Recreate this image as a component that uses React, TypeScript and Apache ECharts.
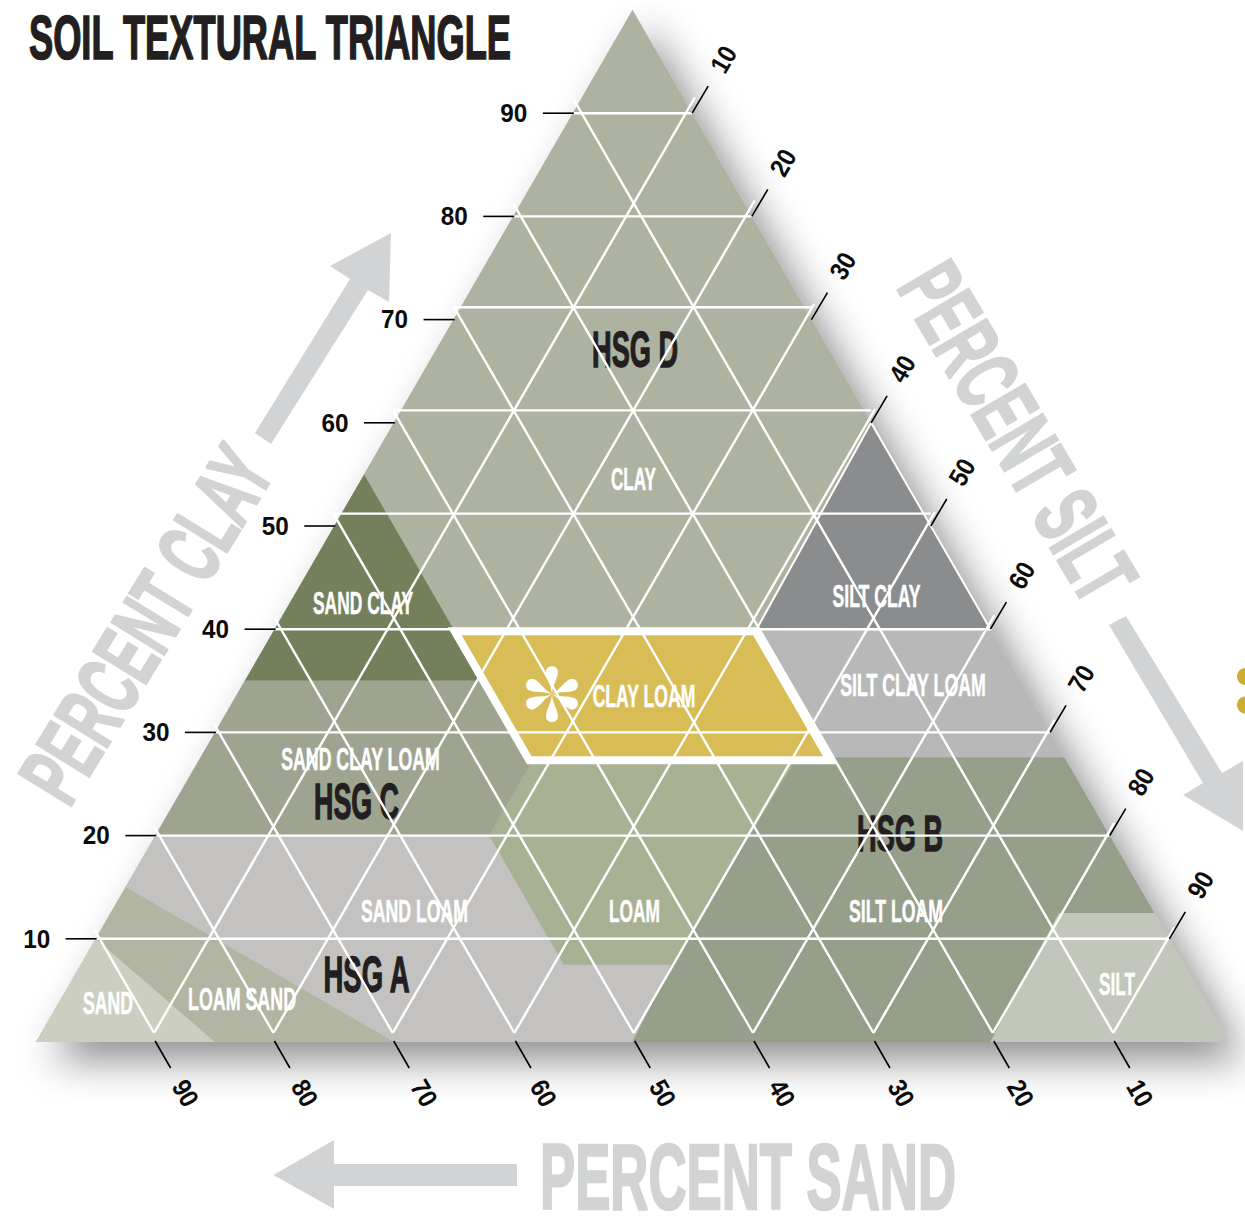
import React, { useEffect, useRef } from "react";
import * as echarts from "echarts";

// ---- Data: every vertex is [percent sand, percent clay] ----
const clayRegion = [[0, 100], [0, 60], [19.6, 40], [45, 40], [45, 55]];
const sandClayRegion = [[45, 55], [45, 35], [65, 35]];
const sandClayLoamRegion = [[65, 35], [45, 35], [45, 27], [52, 20], [80, 20]];
const sandLoamRegion = [[85, 15], [80, 20], [52, 20], [52, 7.5], [43, 7.5], [50, 0], [70, 0]];
const loamSandRegion = [[85, 15], [70, 0], [85, 0], [90, 10]];
const sandRegion = [[90, 10], [85, 0], [100, 0]];
const loamRegion = [[45, 27], [23, 27], [43, 7.5], [52, 7.5], [52, 20]];
const siltLoamRegion = [[23, 27], [19.8, 27.6], [0, 27.6], [0, 12.5], [8, 12.5], [20, 0], [50, 0], [43, 7.5]];
const siltRegion = [[8, 12.5], [0, 12.5], [0, 0], [20, 0]];
const siltClayLoamRegion = [[19.8, 39.8], [0, 40], [0, 27.6], [19.8, 27.6]];
const siltClayRegion = [[0, 60], [0, 40], [19.6, 40]];
const clayLoamRegion = [[45, 39.8], [19.8, 39.8], [19.8, 27.3], [45, 27.3]];
const wholeTriangle = [[0, 100], [0, 0], [100, 0]];
const flowerAnchor = [39.9, 33.7];

const clayTicks = [10, 20, 30, 40, 50, 60, 70, 80, 90];
const sandTicks = [90, 80, 70, 60, 50, 40, 30, 20, 10];
const siltTicks = [10, 20, 30, 40, 50, 60, 70, 80, 90];

// The printed grid is slightly off the tick marks: these are the values as drawn.
const horizontalNominalClay = [10, 20, 30, 40, 50, 60, 70, 80, 90];
const horizontalDrawnClay = [10, 20, 30, 40, 51.2, 61.2, 71.2, 80, 90];
const diagonalFootPosition = [9.9, 19.9, 29.9, 40.1, 50.1, 60.1, 70.2, 80.2, 90.3];
const diagonalFootClay = 0.87;

const COND = "'Liberation Sans Narrow', 'Liberation Sans', Arial, sans-serif";
const SANS = "'Liberation Sans', Arial, sans-serif";
const GREY = "#d1d3d4";
const INK = "#231f20";

const regionStyles: [number[][], string, any?][] = [
  [clayRegion, "#aeb2a0"],
  [sandClayRegion, "#74805c"],
  [sandClayLoamRegion, "#9fa491"],
  [sandLoamRegion, "#c3c2c0"],
  [loamSandRegion, "#b2b5a2"],
  [sandRegion, "#cccfbf"],
  [loamRegion, "#a9b195"],
  [siltLoamRegion, "#969f89"],
  [siltRegion, "#c3c6bb"],
  [siltClayLoamRegion, "#b8b8b8"],
  [siltClayRegion, "#8b8c8e", { stroke: "#ffffff", lineWidth: 2 }],
  [clayLoamRegion, "#d8bd57", { stroke: "#ffffff", lineWidth: 8, lineJoin: "miter" }],
];

const CAP = 0.716;
let measureCtx: CanvasRenderingContext2D | null = null;
function fitted(text: string, cx: number, cy: number, width: number, cap: number, fill: string, opts: any = {}) {
  const family = opts.family || COND;
  const fontSize = cap / CAP;
  if (!measureCtx) measureCtx = document.createElement("canvas").getContext("2d");
  measureCtx!.font = `bold ${fontSize}px ${family}`;
  const natural = measureCtx!.measureText(text).width || width;
  const bold = opts.bold === undefined ? 1.4 : opts.bold;
  return {
    type: "text",
    x: cx,
    y: cy,
    rotation: ((opts.deg || 0) * Math.PI) / 180,
    scaleX: width / natural,
    scaleY: 1,
    silent: true,
    style: {
      text,
      fontFamily: family,
      fontWeight: "bold",
      fontSize,
      fill,
      stroke: bold ? fill : undefined,
      lineWidth: bold,
      align: "center",
      verticalAlign: "middle",
      textAlign: "center",
      textVerticalAlign: "middle",
    },
  };
}

const toPlane = (p: number[]) => [100 - p[0] - p[1] / 2, p[1]];

function flowerPath() {
  const L = 28, W = 6;
  const angles = [90, 270, 25, 155, 205, 335];
  let d = "";
  for (const a of angles) {
    const c = Math.cos((a * Math.PI) / 180), s = -Math.sin((a * Math.PI) / 180);
    const P = (l: number, w: number) => `${(l * c - w * s).toFixed(2)} ${(l * s + w * c).toFixed(2)}`;
    d += `M0 0C${P(0.35 * L, 0.12 * W)} ${P(0.55 * L, W)} ${P(0.8 * L, W)}C${P(0.93 * L, W)} ${P(L, 0.5 * W)} ${P(L, 0)}C${P(L, -0.5 * W)} ${P(0.93 * L, -W)} ${P(0.8 * L, -W)}C${P(0.55 * L, -W)} ${P(0.35 * L, -0.12 * W)} 0 0Z`;
  }
  return d;
}
echarts.graphic.registerShape("soilFlower", echarts.graphic.extendPath(flowerPath(), {}) as any);

function buildOption() {
  const hsgLabels = () => [
    fitted("HSG D", 635, 350, 86, 36, INK),
    fitted("HSG C", 356.5, 802, 85, 36, INK),
    fitted("HSG B", 900, 834, 86, 36, INK),
    fitted("HSG A", 366.5, 975, 87, 36, INK),
  ];
  const whiteLabels = () => [
    fitted("CLAY", 633.5, 479, 45, 22, "#fff", { bold: 0.5 }),
    fitted("SAND CLAY", 363, 602.5, 100, 22, "#fff", { bold: 0.5 }),
    fitted("CLAY LOAM", 644, 696, 103, 22, "#fff", { bold: 0.5 }),
    fitted("SILT CLAY", 876.5, 596, 88, 22, "#fff", { bold: 0.5 }),
    fitted("SILT CLAY LOAM", 913, 685, 146, 22, "#fff", { bold: 0.5 }),
    fitted("SAND CLAY LOAM", 360.5, 759, 159, 22, "#fff", { bold: 0.5 }),
    fitted("SAND LOAM", 414.5, 911, 107, 22, "#fff", { bold: 0.5 }),
    fitted("LOAM", 634.5, 911, 51, 22, "#fff", { bold: 0.5 }),
    fitted("SILT LOAM", 896, 911, 94, 22, "#fff", { bold: 0.5 }),
    fitted("LOAM SAND", 242, 999, 108, 22, "#fff", { bold: 0.5 }),
    fitted("SAND", 108, 1002.5, 50, 22, "#fff", { bold: 0.5 }),
    fitted("SILT", 1117, 983.5, 36, 22, "#fff", { bold: 0.5 }),
  ];

  const base = { type: "custom", coordinateSystem: "cartesian2d", silent: true, clip: false };
  const layerData = [[0, 0]];
  const gridStyle = { stroke: "#fff", lineWidth: 2.4 };

  return {
    animation: false,
    backgroundColor: "#ffffff",
    tooltip: { show: false },
    grid: { left: 36, right: 16, top: 10, bottom: 174, containLabel: false },
    xAxis: { type: "value", min: 0, max: 100, show: false },
    yAxis: { type: "value", min: 0, max: 100, show: false },
    graphic: {
      elements: [
        fitted("SOIL TEXTURAL TRIANGLE", 270, 38, 483, 45, INK, { bold: 1.7 }),
        fitted("PERCENT SAND", 748, 1177, 416, 66, GREY, { bold: 2.6 }),
        fitted("PERCENT CLAY", 146, 624, 396, 64, GREY, { deg: 58.4, bold: 2.6 }),
        fitted("PERCENT SILT", 1017.3, 432.3, 374, 64, GREY, { deg: -59.4, bold: 2.6 }),
        { type: "polygon", silent: true, shape: { points: [[391, 233], [330, 266], [350, 279], [255, 433], [271, 444], [368, 290], [389, 302]] }, style: { fill: GREY } },
        { type: "polygon", silent: true, shape: { points: [[1109, 625], [1126, 616], [1222, 773], [1243, 761], [1243, 831], [1183, 795], [1203, 783]] }, style: { fill: GREY } },
        { type: "polygon", silent: true, shape: { points: [[273.5, 1175], [334, 1140], [334, 1164], [517, 1164], [517, 1186], [334, 1186], [334, 1209]] }, style: { fill: GREY } },
        { type: "ellipse", silent: true, shape: { cx: 1245, cy: 676.5, rx: 8, ry: 8.5 }, style: { fill: "#cdae32" } },
        { type: "ellipse", silent: true, shape: { cx: 1245, cy: 705, rx: 8, ry: 8.5 }, style: { fill: "#cdae32" } },
      ],
    },
    series: [
      {
        ...base,
        name: "triangle",
        z: 1,
        data: layerData,
        renderItem: (_: any, api: any) => ({
          type: "polygon",
          shape: { points: wholeTriangle.map((p) => api.coord(toPlane(p))) },
          style: {
            fill: "#aeb2a0",
            shadowBlur: 40,
            shadowColor: "rgba(0,0,0,0.45)",
            shadowOffsetX: 16,
            shadowOffsetY: 18,
          },
        }),
      },
      {
        ...base,
        name: "regions",
        z: 2,
        data: regionStyles.map((_, i) => [i, 0]),
        renderItem: (params: any, api: any) => {
          const [poly, fill, extra] = regionStyles[params.dataIndex];
          return {
            type: "polygon",
            shape: { points: poly.map((p) => api.coord(toPlane(p))) },
            style: { fill, ...(extra || {}) },
          };
        },
      },
      {
        ...base,
        name: "labels",
        z: 3,
        data: layerData,
        renderItem: (_: any, api: any) => {
          const flower = api.coord(toPlane(flowerAnchor));
          return {
            type: "group",
            children: [
              ...hsgLabels(),
              ...whiteLabels(),
              { type: "soilFlower", x: flower[0], y: flower[1], style: { fill: "#fff" } },
            ],
          };
        },
      },
      {
        ...base,
        name: "horizontal grid",
        z: 4,
        data: horizontalDrawnClay.map((v, i) => [i, v]),
        renderItem: (params: any, api: any) => {
          const n = horizontalNominalClay[params.dataIndex];
          const d = horizontalDrawnClay[params.dataIndex];
          const a = api.coord([n / 2, d]);
          const b = api.coord([100 - n / 2, d]);
          return { type: "line", shape: { x1: a[0], y1: a[1], x2: b[0], y2: b[1] }, style: gridStyle };
        },
      },
      {
        ...base,
        name: "rising grid",
        z: 4,
        data: diagonalFootPosition.map((v, i) => [i, v]),
        renderItem: (params: any, api: any) => {
          const u0 = diagonalFootPosition[params.dataIndex];
          const v1 = 100 - u0 + 0.435 + 1;
          const a = api.coord([u0, diagonalFootClay]);
          const b = api.coord([u0 + (v1 - diagonalFootClay) / 2, v1]);
          return { type: "line", shape: { x1: a[0], y1: a[1], x2: b[0], y2: b[1] }, style: gridStyle };
        },
      },
      {
        ...base,
        name: "falling grid",
        z: 4,
        data: diagonalFootPosition.map((v, i) => [i, v]),
        renderItem: (params: any, api: any) => {
          const u0 = diagonalFootPosition[params.dataIndex];
          const v1 = u0 + 0.435 + 0.6;
          const a = api.coord([u0, diagonalFootClay]);
          const b = api.coord([u0 - (v1 - diagonalFootClay) / 2, v1]);
          return { type: "line", shape: { x1: a[0], y1: a[1], x2: b[0], y2: b[1] }, style: gridStyle };
        },
      },
      {
        ...base,
        name: "clay ticks",
        z: 5,
        data: clayTicks.map((v, i) => [i, v]),
        renderItem: (params: any, api: any) => {
          const t = clayTicks[params.dataIndex];
          const p = api.coord([t / 2, t]);
          return {
            type: "group",
            children: [
              { type: "line", shape: { x1: p[0] - 30, y1: p[1], x2: p[0] + 1, y2: p[1] }, style: { stroke: "#000", lineWidth: 1.6 } },
              fitted(String(t), p[0] - 59, p[1] - 0.5, 27, 19, "#0c0c0c", { family: SANS, bold: 0 }),
            ],
          };
        },
      },
      {
        ...base,
        name: "sand ticks",
        z: 5,
        data: sandTicks.map((v, i) => [i, v]),
        renderItem: (params: any, api: any) => {
          const t = sandTicks[params.dataIndex];
          const foot = api.coord([diagonalFootPosition[params.dataIndex], 0]);
          const p = api.coord([100 - t, 0]);
          return {
            type: "group",
            children: [
              { type: "line", shape: { x1: foot[0] + 1, y1: foot[1] - 1, x2: foot[0] + 16.5, y2: foot[1] + 26 }, style: { stroke: "#000", lineWidth: 1.6 } },
              fitted(String(t), p[0] + 30.5, p[1] + 51, 26, 19, "#0c0c0c", { family: SANS, bold: 0, deg: -60 }),
            ],
          };
        },
      },
      {
        ...base,
        name: "silt ticks",
        z: 5,
        data: siltTicks.map((v, i) => [i, v]),
        renderItem: (params: any, api: any) => {
          const t = siltTicks[params.dataIndex];
          const p = api.coord([t + (100 - t) / 2, 100 - t]);
          return {
            type: "group",
            children: [
              { type: "line", shape: { x1: p[0], y1: p[1], x2: p[0] + 16, y2: p[1] - 27 }, style: { stroke: "#000", lineWidth: 1.6 } },
              fitted(String(t), p[0] + 31, p[1] - 54, 26, 19, "#0c0c0c", { family: SANS, bold: 0, deg: 60 }),
            ],
          };
        },
      },
    ],
  };
}

export default function App() {
  const ref = useRef<HTMLDivElement>(null);
  useEffect(() => {
    const chart = echarts.init(ref.current!, undefined, { renderer: "svg" });
    chart.setOption(buildOption() as any);
    return () => chart.dispose();
  }, []);
  return <div ref={ref} style={{ position: "absolute", left: 0, top: 0, width: 1245, height: 1216 }} />;
}
